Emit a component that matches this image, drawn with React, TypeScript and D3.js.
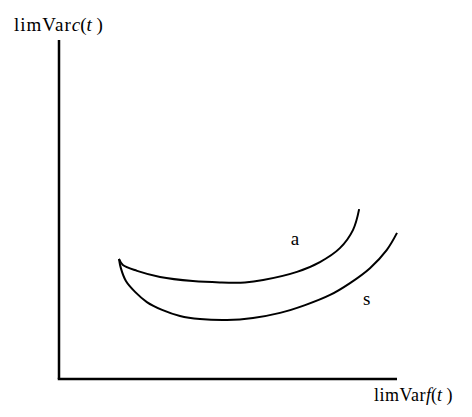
import React from "react";
import * as d3 from "d3";

const W = 472;
const H = 417;

// Curve "a" (upper) in data units (0-100 on both axes)
const aX = [17.75, 18.9, 23.1, 29.9, 39.6, 47.6, 55.0, 60.4, 70.4, 77.2, 83.1, 87.0, 88.8];
const aY = [35.4, 33.6, 31.9, 30.1, 28.9, 28.5, 28.5, 29.2, 31.6, 34.5, 38.6, 44.0, 50.1];

// Curve "s" (lower)
const sX = [17.75, 18.3, 19.8, 22.5, 26.0, 30.5, 35.8, 41.7, 49.7, 57.4, 65.4, 72.8, 80.2, 86.1, 92.0, 97.0, 100];
const sY = [35.4, 32.7, 28.9, 25.7, 22.7, 20.4, 18.6, 17.7, 17.4, 18.0, 19.5, 21.8, 24.8, 28.3, 32.7, 38.1, 43.1];

const curveLabels = ["a", "s"];
const labelPos = [
  { x: 69.8, y: 39.5 },
  { x: 91.0, y: 21.7 },
];

export default function App() {
  const x = d3.scaleLinear().domain([0, 100]).range([59, 397]);
  const y = d3.scaleLinear().domain([0, 100]).range([379, 40]);
  const line = d3
    .line<[number, number]>()
    .x((d) => x(d[0]))
    .y((d) => y(d[1]))
    .curve(d3.curveCatmullRom.alpha(0.5));

  const aPts = aX.map((v, i) => [v, aY[i]] as [number, number]);
  const sPts = sX.map((v, i) => [v, sY[i]] as [number, number]);

  const font = "'Liberation Serif', 'Times New Roman', serif";

  return (
    <svg
      width={W}
      height={H}
      style={{ position: "absolute", left: 0, top: 0, background: "#fff" }}
    >
      <rect width={W} height={H} fill="#fff" />
      {/* axes */}
      <line x1={x(0)} y1={y(0)} x2={x(0)} y2={y(100)} stroke="#000" strokeWidth={2.5} />
      <line x1={x(0) - 1.25} y1={y(0)} x2={x(100)} y2={y(0)} stroke="#000" strokeWidth={2.5} />

      <path d={line(aPts) || ""} fill="none" stroke="#000" strokeWidth={2} />
      <path d={line(sPts) || ""} fill="none" stroke="#000" strokeWidth={2} />

      {curveLabels.map((t, i) => (
        <text
          key={t}
          x={x(labelPos[i].x)}
          y={y(labelPos[i].y)}
          textAnchor="middle"
          fontFamily={font}
          fontSize={19}
          fill="#000"
        >
          {t}
        </text>
      ))}

      <text x={14} y={31} fontFamily={font} fontSize={19} fill="#000">
        <tspan letterSpacing={1}>limVar</tspan>
        <tspan fontStyle="italic">c</tspan>
        <tspan>(</tspan>
        <tspan fontStyle="italic">t</tspan>
        <tspan> )</tspan>
      </text>

      <text x={374} y={401} fontFamily={font} fontSize={18} fill="#000">
        <tspan letterSpacing={0.5}>limVar</tspan>
        <tspan fontStyle="italic">f</tspan>
        <tspan>(</tspan>
        <tspan fontStyle="italic">t</tspan>
        <tspan> )</tspan>
      </text>
    </svg>
  );
}
